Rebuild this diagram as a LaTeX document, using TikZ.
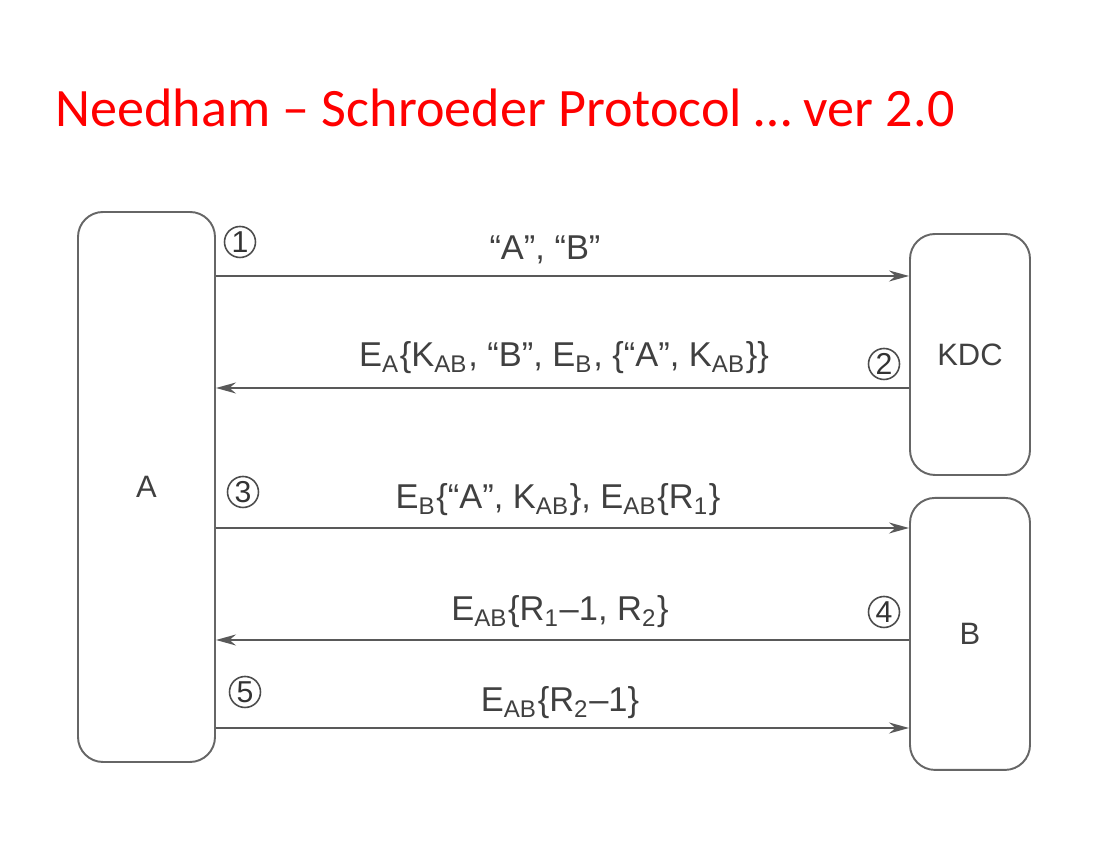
\documentclass[tikz,border=0pt]{standalone}
\usepackage{fontspec}
\setmainfont{Liberation Sans}
\newfontfamily\titlefont{Carlito}
\usetikzlibrary{positioning,arrows.meta}

\tikzset{
  party/.style={draw=black!60, line width=0.55pt, rounded corners=0.25cm,
    minimum width=1.2cm, text=black!75, font=\fontsize{8.8}{10}\selectfont},
  msg/.style={draw=black!65, line width=0.5pt, -{Stealth[length=0.2cm,width=0.11cm]}},
  stepnum/.style={circle, draw=black!70, line width=0.45pt, inner sep=0pt,
    minimum size=0.31cm, text=black!80, font=\fontsize{8.6}{10}\selectfont},
  lbl/.style={text=black!75, inner sep=0pt, font=\fontsize{9.8}{11}\selectfont}
}

\begin{document}
\begin{tikzpicture}
  \useasboundingbox (0,0) rectangle (11.17,-8.44);
  \node[anchor=base west, text=red, inner sep=0pt, font=\titlefont\fontsize{15.4}{18}\selectfont]
    (title) at (0.55,-1.27) {Needham – Schroeder Protocol … ver 2.0};

  % the parties
  \node[party, minimum width=1.37cm, minimum height=5.5cm] (A) at (1.465,-4.87) {A};
  \node[party, minimum height=2.41cm] (KDC) at (9.7,-3.545) {KDC};
  \node[party, minimum height=2.72cm, below=0.21cm of KDC] (B) {B};

  % message heights
  \coordinate (y1) at (0,-2.76);
  \coordinate (y2) at (0,-3.88);
  \coordinate (y3) at (0,-5.28);
  \coordinate (y4) at (0,-6.40);
  \coordinate (y5) at (0,-7.28);

  \draw[msg] (A.east |- y1) -- (KDC.west |- y1);
  \draw[msg] (KDC.west |- y2) -- (A.east |- y2);
  \draw[msg] (A.east |- y3) -- (B.west |- y3);
  \draw[msg] (B.west |- y4) -- (A.east |- y4);
  \draw[msg] (A.east |- y5) -- (B.west |- y5);

  % labels
  \node[lbl] (m1) at (5.45,-2.50) {“A”, “B”};
  \node[lbl] (m2) at (5.64,-3.58) {E\textsubscript{A}\{K\textsubscript{AB}, “B”, E\textsubscript{B}, \{“A”, K\textsubscript{AB}\}\}};
  \node[lbl] (m3) at (5.58,-5.00) {E\textsubscript{B}\{“A”, K\textsubscript{AB}\}, E\textsubscript{AB}\{R\textsubscript{1}\}};
  \node[lbl] (m4) at (5.60,-6.12) {E\textsubscript{AB}\{R\textsubscript{1}–1, R\textsubscript{2}\}};
  \node[lbl] (m5) at (5.60,-7.03) {E\textsubscript{AB}\{R\textsubscript{2}–1\}};

  \node[stepnum] (s1) at (2.40,-2.42) {1};
  \node[stepnum] (s2) at (8.84,-3.64) {2};
  \node[stepnum] (s3) at (2.43,-4.92) {3};
  \node[stepnum] (s4) at (8.84,-6.12) {4};
  \node[stepnum] (s5) at (2.45,-6.92) {5};
\end{tikzpicture}
\end{document}
